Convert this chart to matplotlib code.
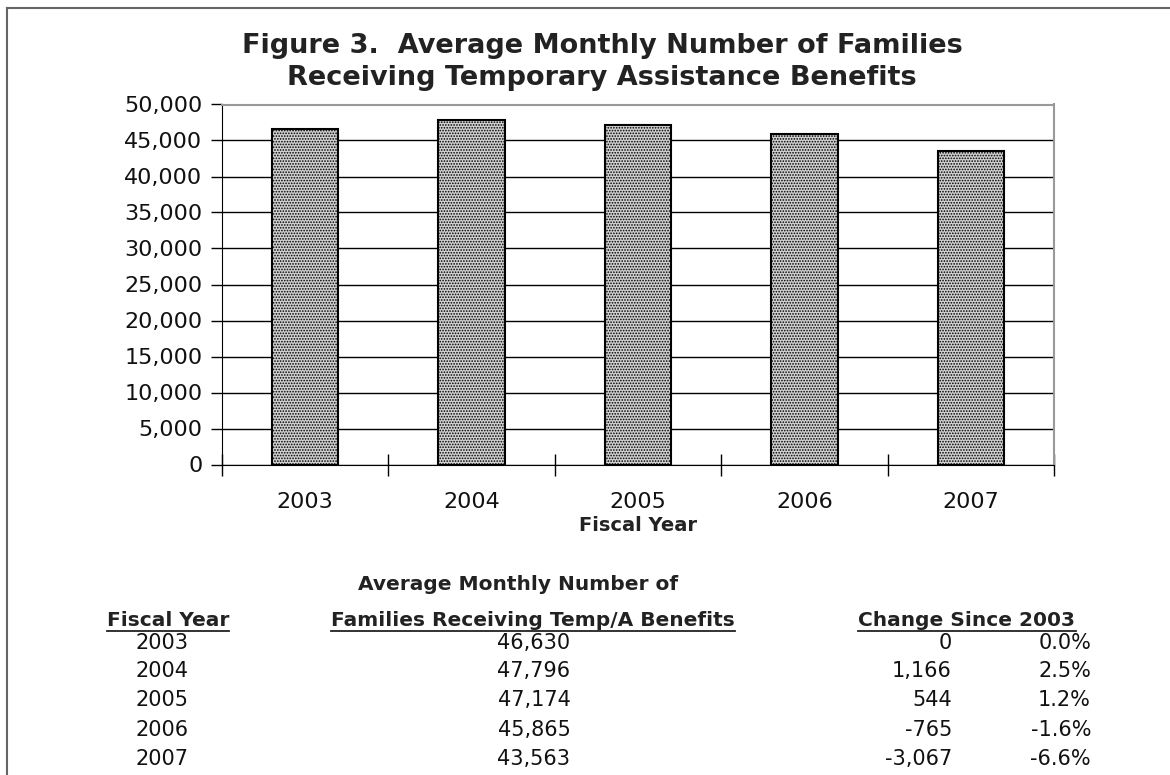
import matplotlib
matplotlib.use("Agg")
import matplotlib.pyplot as plt
from matplotlib.lines import Line2D

years = ["2003", "2004", "2005", "2006", "2007"]
families = [46630, 47796, 47174, 45865, 43563]
change_abs = ["0", "1,166", "544", "-765", "-3,067"]
change_pct = ["0.0%", "2.5%", "1.2%", "-1.6%", "-6.6%"]
yticks = list(range(0, 50001, 5000))

plt.rcParams['hatch.color'] = '#7a7a7a'
plt.rcParams['hatch.linewidth'] = 0.8

W, H = 1170, 775
fig = plt.figure(figsize=(W / 100, H / 100), dpi=100)
fig.patch.set_facecolor("white")

def fx(px):
    return px / W

def fy(py):
    return 1 - py / H

# outer border
fig.add_artist(Line2D([fx(7), fx(7)], [fy(8), 0], color="#666666", lw=1.5, transform=fig.transFigure))
fig.add_artist(Line2D([fx(7), 1], [fy(8), fy(8)], color="#666666", lw=1.5, transform=fig.transFigure))

ax = fig.add_axes([fx(222), fy(464.5), fx(1054) - fx(222), (464.5 - 104.5) / H])
x = list(range(len(years)))
ax.bar(x, families, width=0.4, color="#d0d0d0", edgecolor="black", linewidth=1.5,
       hatch="......", zorder=3)
ax.set_xlim(-0.5, 4.5)
ax.set_ylim(0, 50000)
ax.set_yticks(yticks)
ax.set_yticklabels([f"{v:,}" for v in yticks], fontsize=16, family="DejaVu Sans", color="#111111")
ax.yaxis.grid(True, color="black", lw=1, zorder=0)
ax.set_axisbelow(True)
ax.tick_params(axis="y", direction="out", length=8, width=1, pad=6)
ax.set_xticks(x)
ax.set_xticklabels(years, fontsize=16, family="DejaVu Sans", color="#111111")
ax.tick_params(axis="x", which="major", length=0, pad=20)
ax.set_xticks([-0.5, 0.5, 1.5, 2.5, 3.5, 4.5], minor=True)
ax.tick_params(axis="x", which="minor", direction="inout", length=16, width=1)
for s in ["top", "right"]:
    ax.spines[s].set_color("#999999")
    ax.spines[s].set_linewidth(1.5)
ax.spines["left"].set_color("black")
ax.spines["bottom"].set_color("black")
ax.set_xlabel("Fiscal Year", fontsize=14, fontweight="bold", family="DejaVu Sans",
              labelpad=3, color="#222222")

fig.text(fx(602), fy(46), "Figure 3.  Average Monthly Number of Families", ha="center", va="center",
         fontsize=19.5, fontweight="bold", family="DejaVu Sans", color="#222222")
fig.text(fx(602), fy(78), "Receiving Temporary Assistance Benefits", ha="center", va="center",
         fontsize=19.5, fontweight="bold", family="DejaVu Sans", color="#222222")

hfont = dict(fontsize=14.5, family="DejaVu Sans", fontweight="bold", color="#222222")
tfont = dict(fontsize=15, family="DejaVu Sans", color="#111111")
fig.text(fx(518), fy(585), "Average Monthly Number of", ha="center", va="center", **hfont)
h1 = fig.text(fx(168), fy(621), "Fiscal Year", ha="center", va="center", **hfont)
h2 = fig.text(fx(533), fy(621), "Families Receiving Temp/A Benefits", ha="center", va="center", **hfont)
h3 = fig.text(fx(967), fy(621), "Change Since 2003", ha="center", va="center", **hfont)

row_y = [643, 671, 700, 730, 759]
for i in range(len(years)):
    fig.text(fx(162), fy(row_y[i]), years[i], ha="center", va="center", **tfont)
    fig.text(fx(534), fy(row_y[i]), f"{families[i]:,}", ha="center", va="center", **tfont)
    fig.text(fx(952), fy(row_y[i]), change_abs[i], ha="right", va="center", **tfont)
    fig.text(fx(1091), fy(row_y[i]), change_pct[i], ha="right", va="center", **tfont)

fig.canvas.draw()
r = fig.canvas.get_renderer()
for t in (h1, h2, h3):
    bb = t.get_window_extent(r)
    yl = bb.y0 - 0.5
    fig.add_artist(Line2D([bb.x0 / W, bb.x1 / W], [yl / H, yl / H], color="#222222", lw=1.3,
                          transform=fig.transFigure))

fig.savefig("out.png", dpi=100)
